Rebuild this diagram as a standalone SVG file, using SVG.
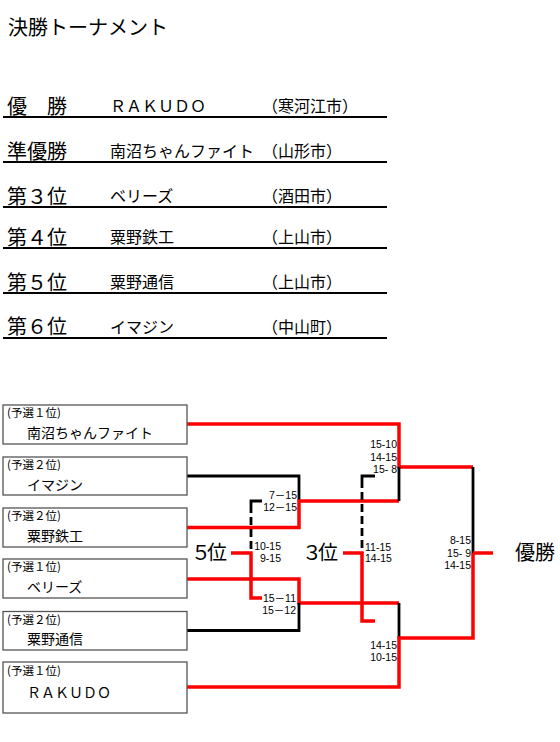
<svg xmlns="http://www.w3.org/2000/svg" width="560" height="742" viewBox="0 0 560 742">
<style>
text{font-family:"Liberation Sans","Noto Sans CJK JP",sans-serif;fill:#000}
.jp{font-family:"Noto Sans CJK JP","Liberation Sans",sans-serif}
.title{font-size:20px}
.rank{font-size:20px}
.team{font-size:16px}
.uline{stroke:#000;stroke-width:2}
.box{fill:#fff;stroke:#555;stroke-width:1.3}
.sm{font-size:11.5px}
.nm{font-size:14px}
.sc{font-size:10.5px}
.end{text-anchor:end}
.big{font-size:20px;letter-spacing:-4px}
.red{fill:none;stroke:#ff0000;stroke-width:3.5}
.blk{fill:none;stroke:#000;stroke-width:2.8}
.dash{stroke-dasharray:8 4}
</style>
<rect width="560" height="742" fill="#fff"/>
<g id="title"><text class="jp title" x="8" y="35">決勝トーナメント</text></g>
<g id="ranking">
  <g id="rank1"><text class="jp rank" x="7" y="113.5">優　勝</text><text class="jp team" x="110" y="112">ＲＡＫＵＤＯ</text><text class="jp team" x="262" y="112">（寒河江市）</text><line class="uline" x1="3" y1="117" x2="387" y2="117"/></g>
  <g id="rank2"><text class="jp rank" x="7" y="158.5">準優勝</text><text class="jp team" x="110" y="157">南沼ちゃんファイト</text><text class="jp team" x="262" y="157">（山形市）</text><line class="uline" x1="3" y1="162" x2="387" y2="162"/></g>
  <g id="rank3"><text class="jp rank" x="7" y="203.5">第３位</text><text class="jp team" x="110" y="202">ベリーズ</text><text class="jp team" x="262" y="202">（酒田市）</text><line class="uline" x1="3" y1="207" x2="387" y2="207"/></g>
  <g id="rank4"><text class="jp rank" x="7" y="244.5">第４位</text><text class="jp team" x="110" y="243">粟野鉄工</text><text class="jp team" x="262" y="243">（上山市）</text><line class="uline" x1="3" y1="248" x2="387" y2="248"/></g>
  <g id="rank5"><text class="jp rank" x="7" y="289.5">第５位</text><text class="jp team" x="110" y="288">粟野通信</text><text class="jp team" x="262" y="288">（上山市）</text><line class="uline" x1="3" y1="293" x2="387" y2="293"/></g>
  <g id="rank6"><text class="jp rank" x="7" y="334">第６位</text><text class="jp team" x="110" y="332.5">イマジン</text><text class="jp team" x="262" y="332.5">（中山町）</text><line class="uline" x1="3" y1="338" x2="387" y2="338"/></g>
</g>
<g id="connectors">
  <path class="red" d="M187 424 H399 V467 H473"/>
  <path class="blk" d="M187 476 H299 V501"/>
  <path class="red" d="M187 527.5 H299 V501 H399"/>
  <path class="blk" d="M399 467 V501"/>
  <path class="red" d="M187 579 H299 V603 H399"/>
  <path class="blk" d="M187 630.5 H299 V603"/>
  <path class="blk" d="M399 603 V638"/>
  <path class="red" d="M187 687 H399 V638 H473 V553"/>
  <path class="blk" d="M473 467 V553"/>
  <path class="red" d="M473 553 H493"/>
  <path class="blk" d="M262 501 H251 V505"/>
  <path class="blk dash" d="M251 505 V553"/>
  <path class="red" d="M231 553 H251 V598 H262"/>
  <path class="blk" d="M375 476 H362 V480"/>
  <path class="blk dash" d="M362 480 V553"/>
  <path class="red" d="M343 553 H362 V621 H375"/>
</g>
<g id="box1"><rect class="box" x="3" y="405" width="184" height="39"/><text class="jp sm" x="7" y="417">(予選１位)</text><text class="jp nm" x="27" y="438">南沼ちゃんファイト</text></g>
<g id="box2"><rect class="box" x="3" y="457" width="184" height="38"/><text class="jp sm" x="7" y="469">(予選２位)</text><text class="jp nm" x="27" y="490">イマジン</text></g>
<g id="box3"><rect class="box" x="3" y="508" width="184" height="39"/><text class="jp sm" x="7" y="520">(予選２位)</text><text class="jp nm" x="27" y="541">粟野鉄工</text></g>
<g id="box4"><rect class="box" x="3" y="559" width="184" height="39"/><text class="jp sm" x="7" y="571">(予選１位)</text><text class="jp nm" x="27" y="592">ベリーズ</text></g>
<g id="box5"><rect class="box" x="3" y="611.5" width="184" height="38.5"/><text class="jp sm" x="7" y="623.5">(予選２位)</text><text class="jp nm" x="27" y="644">粟野通信</text></g>
<g id="box6"><rect class="box" x="3" y="662" width="184" height="51"/><text class="jp sm" x="7" y="675">(予選１位)</text><text class="jp nm" x="27" y="698">ＲＡＫＵＤＯ</text></g>
<g id="scores">
  <text class="sc end" x="297" y="499">7－15</text>
  <text class="sc end" x="297" y="511">12－15</text>
  <text class="sc end" x="281" y="550">10-15</text>
  <text class="sc end" x="281" y="562">9-15</text>
  <text class="sc end" x="296" y="602">15－11</text>
  <text class="sc end" x="296" y="614">15－12</text>
  <text class="sc end" x="397" y="448">15-10</text>
  <text class="sc end" x="397" y="460.5">14-15</text>
  <text class="sc end" x="397" y="473">15- 8</text>
  <text class="sc" x="365" y="551">11-15</text>
  <text class="sc" x="365" y="562">14-15</text>
  <text class="sc end" x="397" y="649">14-15</text>
  <text class="sc end" x="397" y="661">10-15</text>
  <text class="sc end" x="471" y="544">8-15</text>
  <text class="sc end" x="471" y="556.5">15- 9</text>
  <text class="sc end" x="471" y="568.5">14-15</text>
</g>
<g id="label5"><text class="jp big" x="191" y="560">５位</text></g>
<g id="label3"><text class="jp big" x="302" y="560">３位</text></g>
<g id="labelWin"><text class="jp big" x="515" y="560" style="letter-spacing:0">優勝</text></g>
</svg>
